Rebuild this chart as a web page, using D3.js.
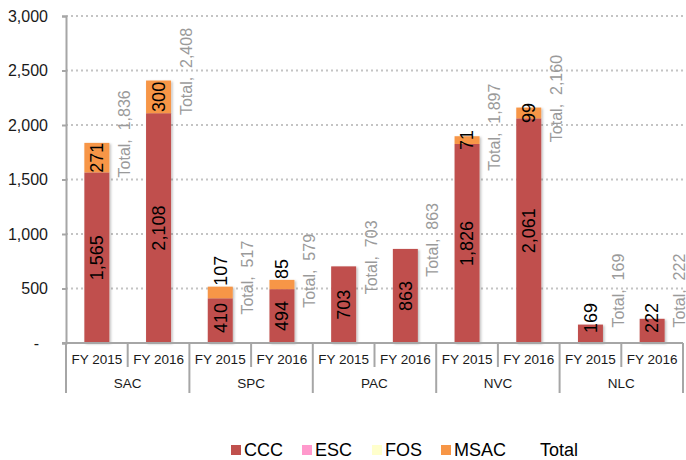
<!DOCTYPE html>
<html>
<head>
<meta charset="utf-8">
<script src="https://cdn.jsdelivr.net/npm/d3@7"></script>
<style>
  body { margin: 0; background: #fff; }
  svg { font-family: Arial, "Liberation Sans", sans-serif; }
</style>
</head>
<body>
<svg id="chart"></svg>
<script>
// data
var groups = ["SAC", "SPC", "PAC", "NVC", "NLC"];
var years = ["FY 2015", "FY 2016"];
var ccc  = [1565, 2108, 410, 494, 703, 863, 1826, 2061, 169, 222];
var esc  = [0, 0, 0, 0, 0, 0, 0, 0, 0, 0];
var fos  = [0, 0, 0, 0, 0, 0, 0, 0, 0, 0];
var msac = [271, 300, 107, 85, 0, 0, 71, 99, 0, 0];
var yTicks = [0, 500, 1000, 1500, 2000, 2500, 3000];
var seriesNames = ["CCC", "ESC", "FOS", "MSAC", "Total"];
var seriesColors = ["#c0504d", "#ff99cc", "#ffffcc", "#f79646", "none"];

var width = 686, height = 460;
var x0 = 66, x1 = 683, yTop = 16, yBase = 343;

var svg = d3.select("#chart")
  .attr("width", width)
  .attr("height", height);

var defs = svg.append("defs");
defs.append("filter").attr("id", "shadow")
  .attr("x", "-20%").attr("y", "-5%").attr("width", "150%").attr("height", "110%")
  .append("feDropShadow")
  .attr("dx", 1.5).attr("dy", 1).attr("stdDeviation", 1.2)
  .attr("flood-color", "#000").attr("flood-opacity", 0.25);

// rows: one per group/year
var rows = [];
groups.forEach(function(g, gi) {
  years.forEach(function(yr, yi) {
    var i = gi * 2 + yi;
    rows.push({ key: g + "|" + yr, group: g, year: yr,
      CCC: ccc[i], ESC: esc[i], FOS: fos[i], MSAC: msac[i] });
  });
});
rows.forEach(function(d) { d.Total = d.CCC + d.ESC + d.FOS + d.MSAC; });

var x = d3.scaleBand()
  .domain(rows.map(function(d) { return d.key; }))
  .range([x0, x1])
  .paddingInner(0.595)
  .paddingOuter(0.2975);

var xGroup = d3.scaleBand()
  .domain(groups)
  .range([x0, x1])
  .padding(0);

var y = d3.scaleLinear()
  .domain([0, 3000])
  .range([yBase, yTop]);

// gridlines
svg.append("g")
  .selectAll("line")
  .data(yTicks.filter(function(t) { return t > 0; }))
  .enter()
  .append("line")
  .attr("x1", x0)
  .attr("x2", x1)
  .attr("y1", function(d) { return y(d); })
  .attr("y2", function(d) { return y(d); })
  .attr("stroke", "#c4c4c4")
  .attr("stroke-width", 2)
  .attr("stroke-dasharray", "2,3");

// y axis
var yAxis = d3.axisLeft(y)
  .tickValues(yTicks)
  .tickSize(4)
  .tickPadding(14)
  .tickFormat(function(d) { return d === 0 ? "-" : d3.format(",")(d); });

var yg = svg.append("g")
  .attr("transform", "translate(" + x0 + ",0)")
  .call(yAxis);
yg.select(".domain").attr("stroke", "#a6a6a6").attr("stroke-width", 2);
yg.selectAll(".tick line").attr("stroke", "#a6a6a6").attr("stroke-width", 2);
yg.selectAll(".tick text")
  .attr("font-size", 16)
  .attr("fill", "#1a1a1a")
  .attr("font-family", "Arial, 'Liberation Sans', sans-serif")
  .attr("dx", function(d) { return d === 0 ? -9 : 0; });

// stacked bars
var keys = ["CCC", "ESC", "FOS", "MSAC"];
var stack = d3.stack().keys(keys)(rows);

var layers = svg.append("g").attr("filter", "url(#shadow)")
  .selectAll("g")
  .data(stack)
  .enter()
  .append("g")
  .attr("fill", function(d, i) { return seriesColors[i]; });

layers.selectAll("rect")
  .data(function(d) { return d; })
  .enter()
  .append("rect")
  .attr("x", function(d) { return x(d.data.key); })
  .attr("width", x.bandwidth())
  .attr("y", function(d) { return y(d[1]); })
  .attr("height", function(d) { return y(d[0]) - y(d[1]); });

// x axis lines
var axisCol = "#a6a6a6";
svg.append("line")
  .attr("x1", x0 - 4).attr("x2", x1)
  .attr("y1", yBase).attr("y2", yBase)
  .attr("stroke", axisCol).attr("stroke-width", 2);

var step = x.step();
var seps = d3.range(0, rows.length + 1);
svg.append("g")
  .selectAll("line")
  .data(seps)
  .enter()
  .append("line")
  .attr("x1", function(i) { return x0 + i * step; })
  .attr("x2", function(i) { return x0 + i * step; })
  .attr("y1", yBase)
  .attr("y2", function(i) { return i % 2 === 0 ? 393 : 367; })
  .attr("stroke", axisCol)
  .attr("stroke-width", 2);

svg.append("g")
  .selectAll("text")
  .data(rows)
  .enter()
  .append("text")
  .attr("x", function(d) { return x(d.key) + x.bandwidth() / 2; })
  .attr("y", 359)
  .attr("dy", "0.35em")
  .attr("text-anchor", "middle")
  .attr("font-size", 13.5)
  .attr("fill", "#1a1a1a")
  .text(function(d) { return d.year; });

svg.append("g")
  .selectAll("text")
  .data(groups)
  .enter()
  .append("text")
  .attr("x", function(d) { return xGroup(d) + xGroup.bandwidth() / 2; })
  .attr("y", 383)
  .attr("dy", "0.35em")
  .attr("text-anchor", "middle")
  .attr("font-size", 13.5)
  .attr("fill", "#1a1a1a")
  .text(function(d) { return d; });

// value labels inside bars (rotated)
var fs = 18;
function textLen(s, size) {
  return s.length * 0.556 * size - (s.indexOf(",") >= 0 ? 0.278 * size : 0);
}
var labels = [];
rows.forEach(function(d) {
  var cx = x(d.key) + x.bandwidth() / 2;
  var s = d3.format(",")(d.CCC);
  var len = textLen(s, fs);
  var c = Math.min((y(0) + y(d.CCC)) / 2, yBase - 10 - len / 2);
  labels.push({ x: cx, y: c, t: s });
  if (d.MSAC > 0) {
    var s2 = d3.format(",")(d.MSAC);
    var len2 = textLen(s2, fs);
    var top = y(d.CCC + d.MSAC);
    var c2 = (y(d.CCC) + top) / 2;
    var cccTop = c - len / 2;
    // push above the bar when it would run into the CCC label
    if (c2 + len2 / 2 > cccTop - 8) c2 = top - 1 - len2 / 2;
    labels.push({ x: cx, y: c2, t: s2 });
  }
});

svg.append("g")
  .selectAll("text")
  .data(labels)
  .enter()
  .append("text")
  .attr("transform", function(d) { return "translate(" + d.x + "," + d.y + ") rotate(-90)"; })
  .attr("text-anchor", "middle")
  .attr("dy", "0.35em")
  .attr("font-size", fs)
  .attr("fill", "#000")
  .text(function(d) { return d.t; });

// total labels
var tfs = 16;
svg.append("g")
  .selectAll("text")
  .data(rows)
  .enter()
  .append("text")
  .attr("transform", function(d) {
    var s = "Total,  " + d3.format(",")(d.Total);
    var len = s.length * 0.47 * tfs;
    var c = Math.min(y(d.Total) - 9, yBase - 11 - len / 2);
    return "translate(" + (x(d.key) + x.bandwidth() / 2 + 27.5) + "," + c + ") rotate(-90)";
  })
  .attr("text-anchor", "middle")
  .attr("dy", "0.35em")
  .attr("font-size", tfs)
  .attr("fill", "#9a9a9a")
  .style("white-space", "pre")
  .text(function(d) { return "Total,  " + d3.format(",")(d.Total); });

// legend
var legendX = [231, 302, 372, 441, 540];
var leg = svg.append("g")
  .selectAll("g")
  .data(seriesNames)
  .enter()
  .append("g")
  .attr("transform", function(d, i) { return "translate(" + legendX[i] + ",450)"; });

leg.filter(function(d, i) { return seriesColors[i] !== "none"; })
  .append("rect")
  .attr("x", 0).attr("y", -5)
  .attr("width", 10).attr("height", 10)
  .attr("fill", function(d) { return seriesColors[seriesNames.indexOf(d)]; });

leg.append("text")
  .attr("x", function(d, i) { return seriesColors[i] === "none" ? 0 : 13; })
  .attr("dy", "0.35em")
  .attr("font-size", 18)
  .attr("fill", "#000")
  .text(function(d) { return d; });
</script>
</body>
</html>
